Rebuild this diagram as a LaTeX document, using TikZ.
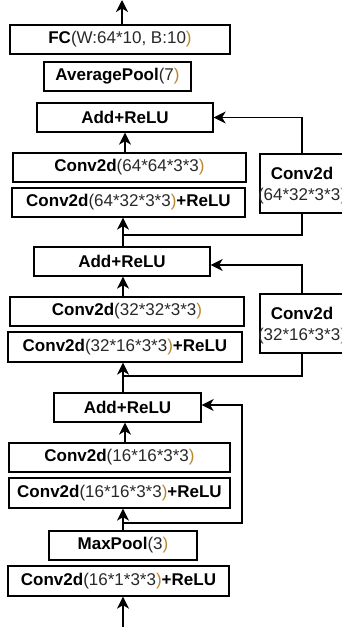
\documentclass[tikz,border=0pt]{standalone}
\usepackage{fontspec}
\setmainfont{Liberation Sans}
\usetikzlibrary{arrows.meta}
\definecolor{parcol}{RGB}{184,134,46}
\definecolor{txtgray}{RGB}{40,40,40}
\newcommand{\cp}{\textcolor{parcol}{)}}
\begin{document}
\begin{tikzpicture}[x=1pt,y=-1pt,
  every node/.style={font=\fontsize{17}{21}\selectfont, text=black},
  box/.style={draw=black, line width=1.3pt, minimum height=29pt, inner sep=0pt, anchor=center},
  sidebox/.style={draw=black, line width=1.3pt, minimum width=84pt, minimum height=59pt, inner sep=0pt},
  conn/.style={draw=black, line width=1.3pt},
  arr/.style={conn, -{Stealth[length=12pt,width=12pt,inset=3.5pt]}}]
\useasboundingbox (0,0) rectangle (342,627);
\begin{scope}
\clip (0,0) rectangle (342,627);
% main column
\node[box, minimum width=220pt] (fc) at (120,39.5) {\textbf{FC}{\color{txtgray}(W:64*10, B:10}\cp};
\node[box, minimum width=147pt] (avg) at (117.5,76.5) {\textbf{AveragePool}{\color{txtgray}(7}\cp};
\node[box, minimum width=176pt] (add1) at (125,117.5) {\textbf{Add+ReLU}};
\node[box, minimum width=233pt] (c64a) at (129.5,167.5) {\textbf{Conv2d}{\color{txtgray}(64*64*3*3}\cp};
\node[box, minimum width=233pt] (c64b) at (128.5,202.5) {\textbf{Conv2d}{\color{txtgray}(64*32*3*3}\cp\textbf{+ReLU}};
\node[box, minimum width=176pt] (add2) at (122,261.5) {\textbf{Add+ReLU}};
\node[box, minimum width=234pt] (c32a) at (127,311.5) {\textbf{Conv2d}{\color{txtgray}(32*32*3*3}\cp};
\node[box, minimum width=234pt, minimum height=30pt] (c32b) at (125,347) {\textbf{Conv2d}{\color{txtgray}(32*16*3*3}\cp\textbf{+ReLU}};
\node[box, minimum width=147pt] (add3) at (127.5,407.5) {\textbf{Add+ReLU}};
\node[box, minimum width=221pt] (c16a) at (119.5,457.5) {\textbf{Conv2d}{\color{txtgray}(16*16*3*3}\cp};
\node[box, minimum width=221pt, minimum height=30pt] (c16b) at (119.5,493) {\textbf{Conv2d}{\color{txtgray}(16*16*3*3}\cp\textbf{+ReLU}};
\node[box, minimum width=148pt] (maxp) at (123,545.5) {\textbf{MaxPool}{\color{txtgray}(3}\cp};
\node[box, minimum width=221pt, minimum height=30pt] (c1) at (118.5,581) {\textbf{Conv2d}{\color{txtgray}(16*1*3*3}\cp\textbf{+ReLU}};
% side boxes
\node[sidebox] (side1) at (302,183.5) {};
\node[align=center, inner sep=0pt] (side1t) at (302,186) {\textbf{Conv2d}\\{\color{txtgray}(64*32*3*3}\cp};
\node[sidebox] (side2) at (302,323.5) {};
\node[align=center, inner sep=0pt] (side2t) at (302,326) {\textbf{Conv2d}\\{\color{txtgray}(32*16*3*3}\cp};
% helper coordinates
\coordinate (ax) at (123,0);
\coordinate (out) at (122,0);
\coordinate (in) at (123,627);
\coordinate (j1) at (123,235);
\coordinate (j2) at (123,376);
\coordinate (j3) at (123,523);
\coordinate (k3) at (242,405);
% main arrows
\draw[arr] (out |- fc.north) -- (out);
\draw[arr] (add1.south |- c64a.north) -- (add1.south);
\draw[arr] (ax |- add2.north) -- (ax |- c64b.south);
\draw[arr] (ax |- c32a.north) -- (ax |- add2.south);
\draw[arr] (ax |- add3.north) -- (ax |- c32b.south);
\draw[arr] (125,0 |- c16a.north) -- (125,0 |- add3.south);
\draw[arr] (ax |- maxp.north) -- (ax |- c16b.south);
\draw[arr] (in) -- (ax |- c1.south);
% skip connections
\draw[arr] (side1.north) |- (add1.east);
\draw[conn] (side1.south) |- (j1);
\draw[arr] (side2.north) |- ([yshift=-3.5pt]add2.east);
\draw[conn] (side2.south) |- (j2);
\draw[arr] (j3) -| (k3) -- (add3.east |- k3);
\end{scope}
\end{tikzpicture}
\end{document}
